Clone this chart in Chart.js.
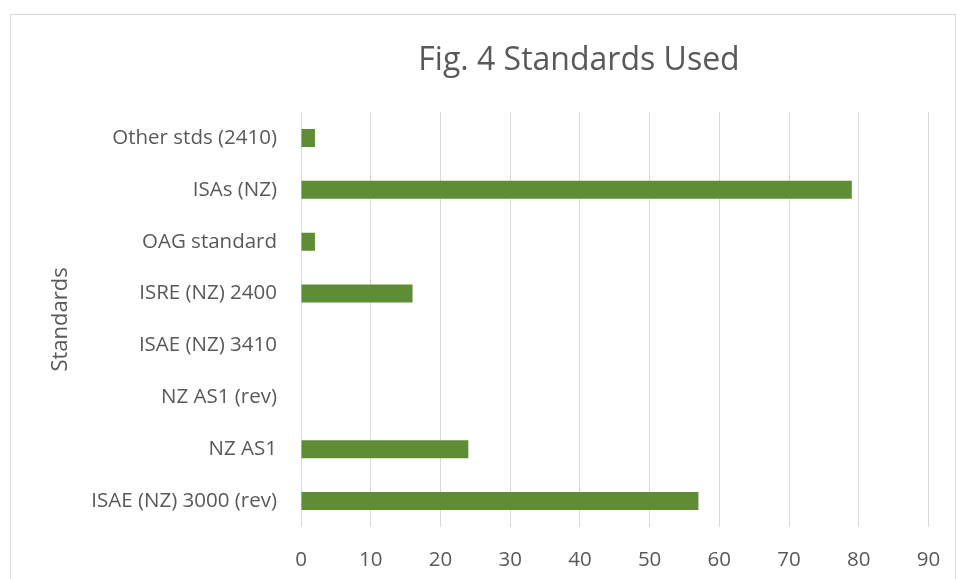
<!DOCTYPE html>
<html>
<head>
<meta charset="utf-8">
<script src="https://cdn.jsdelivr.net/npm/chart.js@4/dist/chart.umd.min.js"></script>
<style>
  html, body { margin: 0; padding: 0; width: 957px; height: 579px; overflow: hidden; background: #fff; }
  #frame { position: absolute; left: 10px; top: 14px; width: 946px; height: 620px; border: 1px solid #d9d9d9; box-sizing: border-box; }
  #wrap { position: absolute; left: 0; top: 0; width: 957px; height: 579px; }
</style>
</head>
<body>
<div id="frame"></div>
<div id="wrap"><canvas id="c" width="957" height="579"></canvas></div>
<script>
const categories = [
  "Other stds (2410)",
  "ISAs (NZ)",
  "OAG standard",
  "ISRE (NZ) 2400",
  "ISAE (NZ) 3410",
  "NZ AS1 (rev)",
  "NZ AS1",
  "ISAE (NZ) 3000 (rev)"
];
const values = [2, 79, 2, 16, 0, 0, 24, 57];
const xTicksMin = 0;
const xTicksMax = 90;
const xTickStep = 10;
const chartTitle = "Fig. 4 Standards Used";
const yAxisTitle = "Standards";

Chart.defaults.font.family = "'Open Sans', sans-serif";
Chart.defaults.color = "#595959";

const shiftTitle = {
  id: 'shiftTitle',
  afterLayout(chart) {
    const t = chart.titleBlock;
    if (t) { t.left += 114.75; t.right += 114.75; }
  }
};

new Chart(document.getElementById('c'), {
  type: 'bar',
  data: {
    labels: categories,
    datasets: [{
      data: values,
      backgroundColor: '#5e8d35',
      borderWidth: 0,
      barPercentage: 0.347,
      categoryPercentage: 1.0
    }]
  },
  options: {
    indexAxis: 'y',
    responsive: false,
    animation: false,
    layout: { padding: { left: 0, right: 28.5, top: 0, bottom: 0 } },
    plugins: {
      legend: { display: false },
      tooltip: { enabled: false },
      title: {
        display: true,
        text: chartTitle,
        color: '#595959',
        font: { size: 32, weight: 'normal' },
        padding: { top: 41.8, bottom: 31.8 }
      }
    },
    scales: {
      x: {
        min: xTicksMin,
        max: xTicksMax,
        ticks: { stepSize: xTickStep, color: '#595959', font: { size: 20.5 }, padding: 8 },
        grid: { color: '#d9d9d9', lineWidth: 1, drawTicks: true, tickLength: 13, tickColor: 'rgba(0,0,0,0)' },
        border: { display: false },
        afterFit(scale) { scale.height = 52; }
      },
      y: {
        ticks: { color: '#595959', font: { size: 20.5 }, padding: 24 },
        grid: { display: false, drawTicks: false },
        border: { display: false },
        title: {
          display: true,
          text: yAxisTitle,
          color: '#595959',
          font: { size: 22, weight: 'normal' },
          padding: { top: 47.3, bottom: 0 }
        },
        afterFit(scale) { scale.width = 301; }
      }
    }
  },
  plugins: [shiftTitle]
});
</script>
</body>
</html>
